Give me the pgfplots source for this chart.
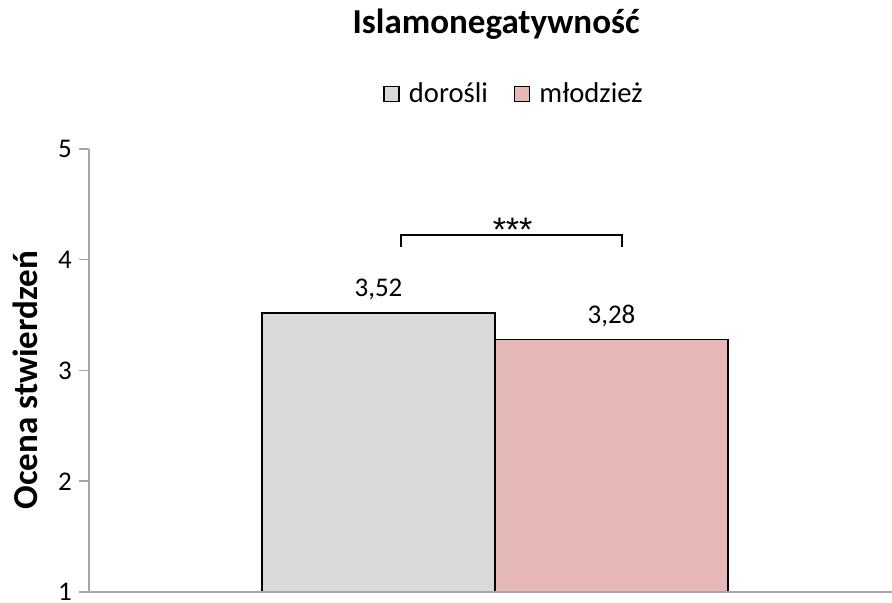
\documentclass[border=0pt]{standalone}
\usepackage{fontspec}
\setmainfont{Carlito}
\newfontfamily\starfont{Liberation Sans}
\usepackage{pgfplots}
\pgfplotsset{compat=1.18}
\usetikzlibrary{calc}

\definecolor{barGrey}{HTML}{D9D9D9}
\definecolor{barPink}{HTML}{E6B9B8}
\definecolor{axisGrey}{HTML}{A6A6A6}

\begin{document}
\begin{tikzpicture}
\begin{axis}[
  scale only axis, width=401.5pt, height=221.5pt,
  xmin=-1.015, xmax=0.9925, ymin=1, ymax=5,
  ytick={1,2,3,4,5}, xtick=\empty,
  axis lines=left,
  axis line style={draw=axisGrey, line width=0.75pt, -},
  axis on top,
  tick align=outside, major tick length=5pt,
  tick style={axisGrey, line width=0.75pt},
  /pgf/number format/assume math mode=true,
  y tick label style={font=\fontsize{13.5}{16}\selectfont},
  ybar=0pt, bar width=116.5pt,
  title={Islamonegatywność},
  title style={at={(axis description cs:0.507,1.2347)}, anchor=base, yshift=0pt,
    font=\fontsize{17.5}{21}\selectfont\bfseries},
  ylabel={Ocena stwierdzeń},
  ylabel style={at={(axis description cs:-0.0797,0.478)}, anchor=center,
    font=\fontsize{17.5}{21}\selectfont\bfseries},
  legend style={at={(axis description cs:0.5305,1.124)}, anchor=center,
    draw=none, font=\fontsize{14.3}{17}\selectfont, legend columns=2,
    /tikz/every odd column/.append style={column sep=2.5pt},
    /tikz/every even column/.append style={column sep=11pt}},
  legend image code/.code={\draw[#1] (0pt,-3.75pt) rectangle (7.5pt,3.75pt);},
  nodes near coords={\pgfmathprintnumber[fixed,fixed zerofill,precision=2,use comma]{\pgfplotspointmeta}},
  every node near coord/.append style={font=\fontsize{13.5}{16}\selectfont,
    anchor=center, yshift=11.5pt, black},
]
\addplot[fill=barGrey, draw=black, line width=0.75pt] coordinates {(0,3.52)};
\addlegendentry{dorośli}
\addplot[fill=barPink, draw=black, line width=0.75pt] coordinates {(0,3.28)};
\addlegendentry{młodzież}

% significance bracket
\draw[black, line width=0.75pt] (axis cs:-0.235,4.115) -- (axis cs:-0.235,4.224)
  -- (axis cs:0.3175,4.224) -- (axis cs:0.3175,4.115);
\node[anchor=base, inner sep=0pt, font=\starfont\fontsize{17}{20}\selectfont]
  at (axis cs:0.044,4.164) {***};
\end{axis}
\pgfresetboundingbox
\path ($(current axis.south west)+(-44.5pt,-5.5pt)$) rectangle
  ($(current axis.south west)+(401.5pt,296pt)$);
\end{tikzpicture}
\end{document}
